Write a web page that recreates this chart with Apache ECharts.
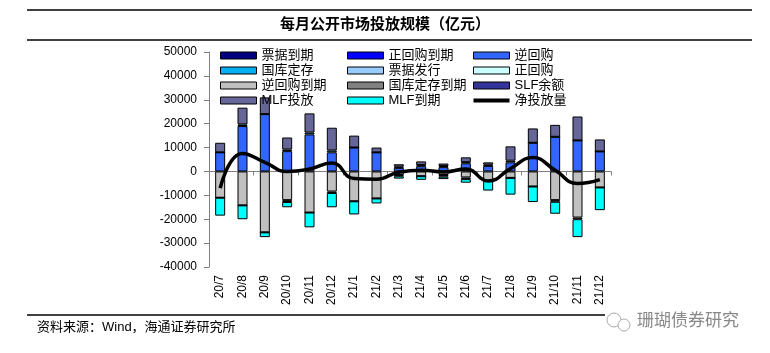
<!DOCTYPE html>
<html>
<head>
<meta charset="utf-8">
<script src="https://cdn.jsdelivr.net/npm/echarts@6/dist/echarts.min.js"></script>
<style>
  html, body { margin: 0; padding: 0; background: #fff; }
  #chart { width: 770px; height: 353px; }
</style>
</head>
<body>
<div id="chart"></div>
<script>
// 月份
const months = ['20/7', '20/8', '20/9', '20/10', '20/11', '20/12', '21/1', '21/2', '21/3',
  '21/4', '21/5', '21/6', '21/7', '21/8', '21/9', '21/10', '21/11', '21/12'];

// 投放（正）
const reverseRepo = [8000, 19000, 24000, 8500, 15500, 8000, 10000, 8000, 1500, 2200, 1800, 3400, 2300, 3800, 12000, 14500, 13000, 8400];
const treasuryDeposit = [0, 700, 0, 700, 800, 800, 0, 0, 500, 500, 500, 500, 500, 700, 0, 0, 0, 0];
const mlfIssue = [4000, 7000, 7000, 5000, 8000, 9500, 5000, 2000, 1000, 1500, 1000, 2000, 1000, 6000, 6000, 5000, 10000, 5000];

// 回笼（负）
const reverseRepoDue = [-11000, -14200, -25500, -12000, -17200, -8400, -12500, -11300, -1500, -2000, -1500, -2500, -4000, -2700, -6300, -12000, -19300, -6700];
const treasuryDepositDue = [0, 0, 0, -800, 0, -600, 0, 0, -500, 0, -700, -700, 0, 0, 0, -700, -700, 0];
const mlfDue = [-7500, -5800, -2000, -2200, -6200, -6000, -5500, -2100, -1000, -1500, -1000, -1500, -4000, -7000, -6500, -5000, -7500, -9500];

// 净投放量
const netInjection = [-7000, 7500, 3800, 0, 1000, 3500, -3000, -3300, -300, 500, -200, 1000, -4000, 1200, 5800, 500, -5000, -3400];

// y轴刻度
const yMin = -40000, yMax = 50000, yStep = 10000;

const chart = echarts.init(document.getElementById('chart'));

const cjk = '"Liberation Sans", "Noto Sans CJK SC", sans-serif';

function bar(name, color, data) {
    return {
        name: name,
        type: 'bar',
        stack: 'total',
        barWidth: 10,
        data: data,
        itemStyle: { color: color, borderColor: '#000', borderWidth: 1 }
    };
}

function legendCol(left, names) {
    return {
        orient: 'vertical',
        left: left,
        top: 49,
        padding: 0,
        itemWidth: 36,
        itemHeight: 7,
        itemGap: 2,
        icon: 'rect',
        data: names,
        textStyle: { fontSize: 13, color: '#000', fontFamily: cjk },
        itemStyle: { borderColor: '#000', borderWidth: 1 }
    };
}

const option = {
    animation: false,
    backgroundColor: '#fff',
    grid: { left: 209, top: 52, width: 402, height: 215 },
    legend: [
        legendCol(220, ['票据到期', '国库定存', '逆回购到期', 'MLF投放']),
        legendCol(347, ['正回购到期', '票据发行', '国库定存到期', 'MLF到期']),
        legendCol(473, ['逆回购', '正回购', 'SLF余额',
            { name: '净投放量', icon: 'path://M0,0H36V4H0Z', itemStyle: { color: '#000', borderWidth: 0 } }])
    ],
    xAxis: [{
        type: 'category',
        data: months,
        axisLine: { lineStyle: { color: '#808080', width: 1 } },
        axisTick: { show: true, length: 4, lineStyle: { color: '#808080' } },
        axisLabel: { show: false }
    }, {
        type: 'category',
        data: months,
        position: 'bottom',
        axisLine: { show: false, onZero: false },
        axisTick: { show: false },
        axisLabel: { rotate: 90, margin: 8, fontSize: 12, color: '#000', fontFamily: 'Liberation Sans' }
    }],
    yAxis: {
        type: 'value',
        min: yMin,
        max: yMax,
        interval: yStep,
        axisLine: { show: true, lineStyle: { color: '#808080' } },
        axisTick: { show: true, length: 5, lineStyle: { color: '#808080' } },
        splitLine: { show: false },
        axisLabel: {
            margin: 12, fontSize: 12, color: '#000', fontFamily: 'Liberation Sans',
            formatter: function (v) { return String(v); }
        }
    },
    series: [
        bar('逆回购', '#3366ff', reverseRepo),
        bar('国库定存', '#00b0f0', treasuryDeposit),
        bar('票据到期', '#000080', []),
        bar('正回购到期', '#0000ff', []),
        bar('票据发行', '#99ccff', []),
        bar('正回购', '#ccffff', []),
        bar('SLF余额', '#333399', []),
        bar('MLF投放', '#666699', mlfIssue),
        bar('逆回购到期', '#c0c0c0', reverseRepoDue),
        bar('国库定存到期', '#808080', treasuryDepositDue),
        bar('MLF到期', '#00ffff', mlfDue),
        {
            name: '净投放量',
            type: 'line',
            data: netInjection,
            smooth: true,
            symbol: 'none',
            z: 10,
            lineStyle: { color: '#000', width: 3.5 },
            itemStyle: { color: '#000' }
        }
    ],
    graphic: [
        { type: 'line', shape: { x1: 27, y1: 10, x2: 752, y2: 10 }, style: { stroke: '#000', lineWidth: 1.5 } },
        { type: 'text', left: 'center', top: 16,
          style: { text: '每月公开市场投放规模（亿元）', font: 'bold 15px "Noto Sans CJK SC"', fill: '#000' } },
        { type: 'line', shape: { x1: 27, y1: 40, x2: 752, y2: 40 }, style: { stroke: '#000', lineWidth: 1.5 } },
        { type: 'line', shape: { x1: 27, y1: 315, x2: 605, y2: 315 }, style: { stroke: '#000', lineWidth: 1.5 } },
        { type: 'text', left: 37, top: 321,
          style: { text: '资料来源：Wind，海通证券研究所', font: '13px "Liberation Sans", "Noto Sans CJK SC"', fill: '#000' } },
        { type: 'circle', shape: { cx: 614, cy: 320, r: 7 }, style: { fill: 'none', stroke: '#aaa', lineWidth: 1 } },
        { type: 'circle', shape: { cx: 624, cy: 325, r: 6 }, style: { fill: '#fff', stroke: '#aaa', lineWidth: 1 } },
        { type: 'text', left: 637, top: 311,
          style: { text: '珊瑚债券研究', font: '17px "Noto Sans CJK SC"', fill: '#888' } }
    ]
};

chart.setOption(option);
</script>
</body>
</html>
